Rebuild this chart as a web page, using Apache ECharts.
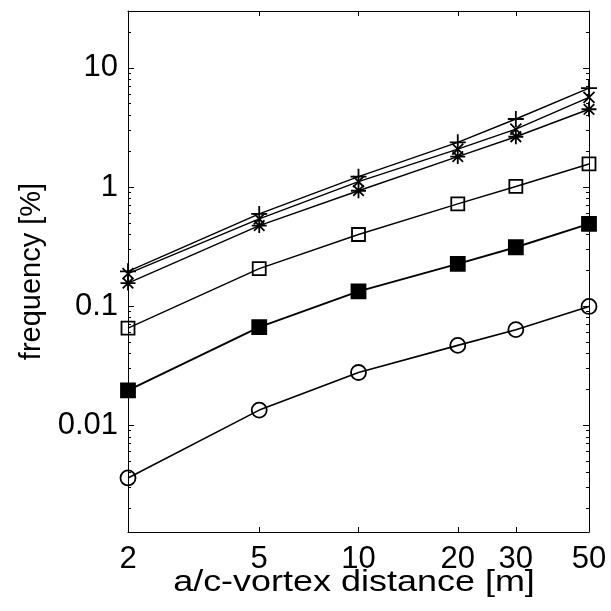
<!DOCTYPE html>
<html><head><meta charset="utf-8">
<script src="https://cdn.jsdelivr.net/npm/echarts@6/dist/echarts.min.js"></script>
<style>html,body{margin:0;padding:0;background:#fff}#c{width:611px;height:611px}</style>
</head><body><div id="c"></div>
<script>
// x categories (distance, m)
const distances = [2, 5, 10, 20, 30, 50];
// series values (frequency, %)
const plusSeries     = [0.196, 0.594, 1.22, 2.37, 3.72, 6.76];
const crossSeries    = [0.187, 0.540, 1.11, 2.08, 3.06, 5.64];
const starSeries     = [0.156, 0.474, 0.93, 1.80, 2.64, 4.49];
const openSqSeries   = [0.0654, 0.206, 0.399, 0.721, 1.01, 1.56];
const fillSqSeries   = [0.0196, 0.0667, 0.133, 0.226, 0.312, 0.490];
const circleSeries   = [0.00361, 0.0134, 0.0277, 0.0468, 0.0634, 0.0993];
// tick labels
const xTickValues = [2, 5, 10, 20, 30, 50];
const xTickLabels = ['2', '5', '10', '20', '30', '50'];
const yTickValues = [0.01, 0.1, 1, 10];
const yTickLabels = ['0.01', '0.1', '1', '10'];
const yMinorTicks = [0.002,0.003,0.004,0.005,0.006,0.007,0.008,0.009,
  0.02,0.03,0.04,0.05,0.06,0.07,0.08,0.09,
  0.2,0.3,0.4,0.5,0.6,0.7,0.8,0.9,
  2,3,4,5,6,7,8,9,20];
const xName = 'a/c-vortex distance [m]';
const yName = 'frequency [%]';

const FONT = 'Liberation Sans, Arial, Helvetica, sans-serif';
const X_MIN = 2, X_MAX = 50, Y_MIN = 0.00127, Y_MAX = 30;

function nearestLabel(v, vals, labels) {
  let best = 0, bd = Infinity;
  vals.forEach((t, i) => { const d = Math.abs(Math.log10(v) - Math.log10(t)); if (d < bd) { bd = d; best = i; } });
  return labels[best];
}
const pair = arr => distances.map((d, i) => [d, arr[i]]);

const chart = echarts.init(document.getElementById('c'), null, {renderer: 'canvas'});

const baseX = {
  type: 'log', min: X_MIN, max: X_MAX, logBase: 10,
  splitLine: {show: false}, minorTick: {show: false},
  axisLine: {show: true, lineStyle: {color: '#000', width: 1}},
};
const baseY = {
  type: 'log', min: Y_MIN, max: Y_MAX, logBase: 10,
  splitLine: {show: false}, minorTick: {show: false},
};

const xAxes = [
  Object.assign({}, baseX, {
    position: 'bottom',
    axisTick: {show: true, inside: true, length: 5, customValues: xTickValues, lineStyle: {color: '#000'}},
    axisLabel: {show: true, customValues: xTickValues, margin: 12, fontFamily: FONT, fontSize: 31, color: '#000',
      formatter: v => nearestLabel(v, xTickValues, xTickLabels)}
  }),
  Object.assign({}, baseX, {
    position: 'top',
    axisTick: {show: true, inside: true, length: 5, customValues: xTickValues, lineStyle: {color: '#000'}},
    axisLabel: {show: false}
  })
];

const yAxes = [
  Object.assign({}, baseY, {
    position: 'left',
    name: yName, nameLocation: 'middle', nameGap: 80, nameRotate: 90,
    nameTextStyle: {fontFamily: FONT, fontSize: 29, color: '#000'},
    axisLine: {show: true, lineStyle: {color: '#000', width: 1}},
    axisTick: {show: true, inside: true, length: 6, customValues: yTickValues, lineStyle: {color: '#000'}},
    axisLabel: {show: true, customValues: yTickValues, margin: 10, fontFamily: FONT, fontSize: 31, color: '#000',
      formatter: v => nearestLabel(v, yTickValues, yTickLabels)}
  }),
  Object.assign({}, baseY, {
    position: 'left', offset: 0,
    axisLine: {show: false},
    axisTick: {show: true, inside: true, length: 3, customValues: yMinorTicks, lineStyle: {color: '#000'}},
    axisLabel: {show: false}
  }),
  Object.assign({}, baseY, {
    position: 'right',
    axisLine: {show: true, lineStyle: {color: '#000', width: 1}},
    axisTick: {show: true, inside: true, length: 6, customValues: yTickValues, lineStyle: {color: '#000'}},
    axisLabel: {show: false}
  }),
  Object.assign({}, baseY, {
    position: 'right', offset: 0,
    axisLine: {show: false},
    axisTick: {show: true, inside: true, length: 3, customValues: yMinorTicks, lineStyle: {color: '#000'}},
    axisLabel: {show: false}
  })
];

const PLUS = 'path://M5,0L5,10M0,5L10,5';
const CROSS = 'path://M0,0L10,10M10,0L0,10';
const STAR = 'path://M5,0L5,10M0,5L10,5M1.5,1.5L8.5,8.5M8.5,1.5L1.5,8.5';

function mk(data, symbol, size, filled, lw) {
  return {
    type: 'line', data: pair(data), xAxisIndex: 0, yAxisIndex: 0,
    symbol: symbol, symbolSize: size, showSymbol: true,
    lineStyle: {color: '#000', width: lw || 1.4},
    itemStyle: {color: filled ? '#000' : 'rgba(0,0,0,0)', borderColor: '#000', borderWidth: 1.8},
    emphasis: {disabled: true}, animation: false, silent: true, z: 3
  };
}

chart.setOption({
  animation: false,
  backgroundColor: '#fff',
  grid: {left: 128, right: 22, top: 11, bottom: 79, show: false},
  xAxis: xAxes,
  yAxis: yAxes,
  graphic: [{
    type: 'text', x: 354, y: 583, scaleX: 1.24,
    style: {text: xName, fontFamily: FONT, fontSize: 29, fill: '#000', align: 'center', verticalAlign: 'middle'}
  }],
  series: [
    mk(plusSeries, PLUS, 16, false),
    mk(crossSeries, CROSS, 11, false),
    mk(starSeries, STAR, 15, false),
    mk(openSqSeries, 'rect', 13, false),
    mk(fillSqSeries, 'rect', 14, true, 1.9),
    mk(circleSeries, 'circle', 15, false, 1.6)
  ]
});
</script>
</body></html>
